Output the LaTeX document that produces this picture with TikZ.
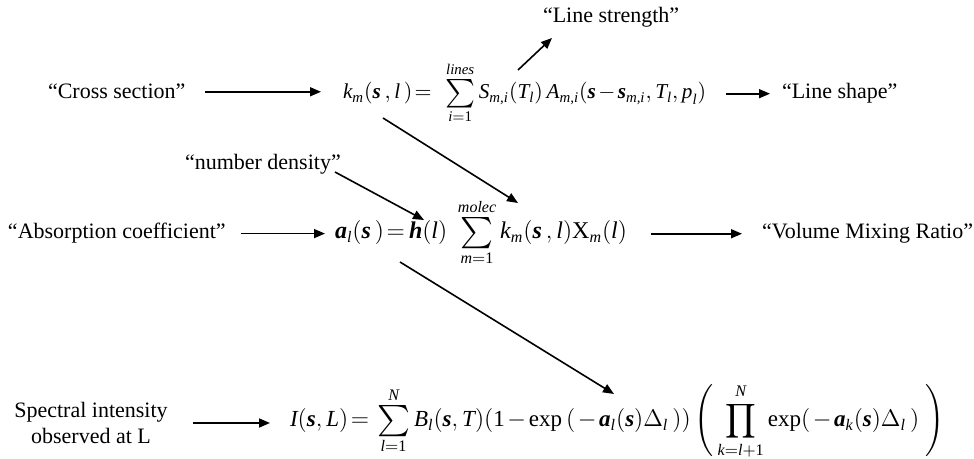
\documentclass[tikz,border=0pt]{standalone}
\usepackage{amsmath}
\usepackage{graphicx}
\usepackage{fontspec}
\setmainfont{Liberation Serif}
\usetikzlibrary{arrows.meta}
\newcommand{\vi}[1]{\text{\itshape #1}}
\newcommand{\vb}[1]{\text{\bfseries\itshape #1}}
\newcommand{\vr}[1]{\text{\upshape #1}}
\newcommand{\eqs}{\mkern2mu{=}\mkern3mu}
\newcommand{\mns}{\mkern2mu{-}\mkern2mu}
\newcommand{\bigsum}{\mathop{\vcenter{\hbox{\scalebox{1.3}{$\textstyle\sum$}}}}\limits}
\begin{document}
\begin{tikzpicture}[x=0.5pt,y=-0.5pt,
  font=\fontsize{11}{13}\selectfont,
  every node/.style={inner sep=0pt, outer sep=0pt},
  formula/.style={anchor=base west, font=\fontsize{11.5}{14}\selectfont},
  lbl/.style={anchor=base west},
  arr/.style={-{Triangle[length=5.5pt,width=4.5pt]}, line width=0.8pt}]
\useasboundingbox (0,0) rectangle (974,459);

% row 1
\node[lbl] (cross) at (48,99) {“Cross section”};
\node[formula, font=\fontsize{10.6}{13}\selectfont] (kf) at (343,99) {$\vi{k}_{\vi{m}}(\vb{s}\,,\vi{l}\,)\eqs\;\bigsum_{\vi{i}=\vr{1}}^{\vi{lines}} \vi{S}_{\vi{m,i}}(\vi{T}_{\vi{l}})\,\vi{A}_{\vi{m,i}}(\vb{s}\mns\vb{s}_{\vi{m,i}},\vi{T}_{\vi{l}},\vi{p}_{\vi{l}})$};
\node[lbl] (shape) at (782,99) {“Line shape”};
\node[lbl] (strength) at (543,23) {“Line strength”};

% row 2
\node[lbl] (nd) at (185,170) {“number density”};
\node[lbl] (abs) at (8,239) {“Absorption coefficient”};
\node[formula, font=\fontsize{12}{14}\selectfont] (af) at (335,239) {$\vb{a}_{\vi{l}}(\vb{s}\,)\eqs\vb{h}(\vi{l})\;\bigsum_{\vi{m}=\vr{1}}^{\vi{molec}} \vi{k}_{\vi{m}}(\vb{s}\,,\vi{l})\vr{X}_{\vi{m}}(\vi{l})$};
\node[lbl] (vmr) at (762,239) {“Volume Mixing Ratio”};

% row 3
\node[align=center] (spec) at (91,423) {Spectral intensity\\observed at L};
\node[formula] (If) at (290,427) {$\vi{I}(\vb{s},\vi{L})\eqs\bigsum_{\vi{l}=\vr{1}}^{\vi{N}} \vi{B}_{\vi{l}}(\vb{s},\vi{T})(\vr{1}\mns\vr{exp}\,(\mns\vb{a}_{\vi{l}}(\vb{s})\Delta_{\vi{l}}\,))\left(\,\displaystyle\prod_{\vi{k}=\vi{l}+\vr{1}}^{\vi{N}} \vr{exp}(\mns\vb{a}_{\vi{k}}(\vb{s})\Delta_{\vi{l}}\,)\;\right)$};

% free ends of connectors inside the formulas
\coordinate (sS) at (518,70);
\coordinate (sE) at (552,38);
\coordinate (kS) at (383,118);
\coordinate (kE) at (518,203);
\coordinate (nS) at (335,172);
\coordinate (nE) at (424,220);
\coordinate (aS) at (400,262);
\coordinate (aE) at (614,394);

% connectors
\draw[arr, shorten <=10pt, shorten >=11pt] (cross.east) -- (cross.east -| kf.west);
\draw[arr, shorten <=10pt, shorten >=6pt] (kf.east |- shape.west) -- (shape.west);
\draw[arr] (sS) -- (sE);
\draw[arr] (kS) -- (kE);
\draw[arr] (nS) -- (nE);
\draw[arr, shorten <=7.5pt, shorten >=5pt] (abs.east) -- (abs.east -| af.west);
\draw[arr, shorten <=12pt, shorten >=10pt] (af.east |- vmr.west) -- (vmr.west);
\draw[arr] (aS) -- (aE);
\draw[arr, shorten <=12.5pt, shorten >=10pt] (spec.east) -- (spec.east -| If.west);
\end{tikzpicture}
\end{document}
